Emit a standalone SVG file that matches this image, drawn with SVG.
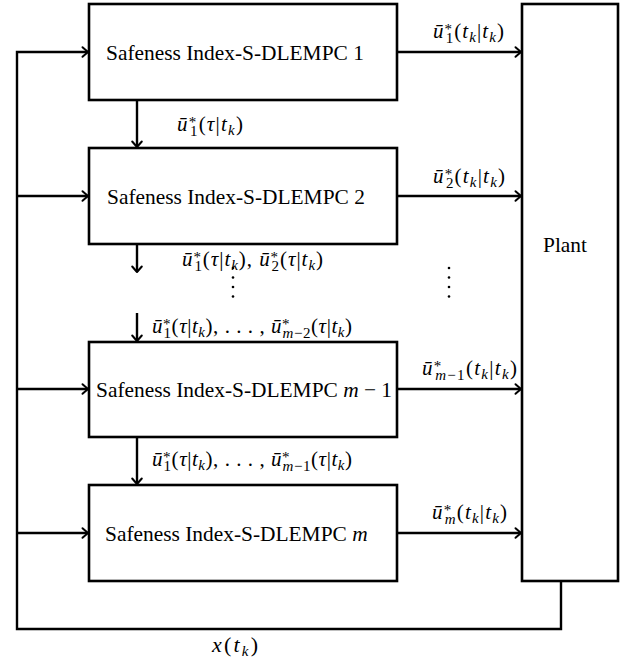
<svg xmlns="http://www.w3.org/2000/svg" width="632" height="665" viewBox="0 0 632 665">
<style>
.b{fill:#fff;stroke:#000;stroke-width:2.6}
.c{fill:none;stroke:#000;stroke-width:2.4}
.t{font-size:21.4px}
.m{font-size:21px}
.i{font-style:italic}
.s{font-size:15px}
.d{fill:#000}
</style>
<defs>
<marker id="ar" markerUnits="userSpaceOnUse" markerWidth="14" markerHeight="14" refX="7" refY="7" orient="auto" viewBox="0 0 14 14" overflow="visible">
<path d="M1.5,2.2 L7,7 L1.5,11.8" fill="none" stroke="#000" stroke-width="2" stroke-linecap="round" stroke-linejoin="round"/>
</marker>
</defs>
<rect width="632" height="665" fill="#fff"/>
<g id="connectors">
<path class="c" d="M561,581 V629 H17 V52 H88" marker-end="url(#ar)"/>
<path class="c" d="M17,196 H88" marker-end="url(#ar)"/>
<path class="c" d="M17,389 H88" marker-end="url(#ar)"/>
<path class="c" d="M17,533 H88" marker-end="url(#ar)"/>
<path class="c" d="M397,52 H521" marker-end="url(#ar)"/>
<path class="c" d="M397,196 H521" marker-end="url(#ar)"/>
<path class="c" d="M397,389 H521" marker-end="url(#ar)"/>
<path class="c" d="M397,533 H521" marker-end="url(#ar)"/>
<path class="c" d="M137,100 V147" marker-end="url(#ar)"/>
<path class="c" d="M137,244 V272" marker-end="url(#ar)"/>
<path class="c" d="M137,313 V341" marker-end="url(#ar)"/>
<path class="c" d="M137,437 V484" marker-end="url(#ar)"/>
</g>
<g id="node1">
<rect class="b" x="89" y="4" width="308" height="96"/>
<text class="t" x="106" y="60" font-family="Liberation Serif">Safeness Index-S-DLEMPC 1</text>
</g>
<g id="node2">
<rect class="b" x="89" y="148" width="308" height="96"/>
<text class="t" x="107" y="204" font-family="Liberation Serif">Safeness Index-S-DLEMPC 2</text>
</g>
<g id="node3">
<rect class="b" x="89" y="342" width="308" height="95"/>
<text class="t" x="96" y="397" font-family="Liberation Serif">Safeness Index-S-DLEMPC <tspan class="i">m</tspan> − 1</text>
</g>
<g id="node4">
<rect class="b" x="89" y="485" width="308" height="96"/>
<text class="t" x="105" y="541" font-family="Liberation Serif">Safeness Index-S-DLEMPC <tspan class="i">m</tspan></text>
</g>
<g id="plant">
<rect class="b" x="522" y="4" width="96" height="577"/>
<text class="t" x="543" y="252" font-family="Liberation Serif">Plant</text>
</g>
<g id="labels">
<text class="m" font-family="Liberation Serif" x="433" y="38" textLength="71" lengthAdjust="spacing"><tspan class="i">ū</tspan><tspan class="s" dy="-4">*</tspan><tspan class="s" dx="-7.5" dy="9">1</tspan><tspan dy="-5">(</tspan><tspan class="i">t</tspan><tspan class="s i" dy="4">k</tspan><tspan dy="-4">|</tspan><tspan class="i">t</tspan><tspan class="s i" dy="4">k</tspan><tspan dy="-4">)</tspan></text>
<text class="m" font-family="Liberation Serif" x="433" y="183" textLength="72" lengthAdjust="spacing"><tspan class="i">ū</tspan><tspan class="s" dy="-4">*</tspan><tspan class="s" dx="-7.5" dy="9">2</tspan><tspan dy="-5">(</tspan><tspan class="i">t</tspan><tspan class="s i" dy="4">k</tspan><tspan dy="-4">|</tspan><tspan class="i">t</tspan><tspan class="s i" dy="4">k</tspan><tspan dy="-4">)</tspan></text>
<text class="m" font-family="Liberation Serif" x="422" y="375" textLength="95" lengthAdjust="spacing"><tspan class="i">ū</tspan><tspan class="s" dy="-4">*</tspan><tspan class="s" dx="-7.5" dy="9"><tspan class="i">m</tspan>−1</tspan><tspan dy="-5">(</tspan><tspan class="i">t</tspan><tspan class="s i" dy="4">k</tspan><tspan dy="-4">|</tspan><tspan class="i">t</tspan><tspan class="s i" dy="4">k</tspan><tspan dy="-4">)</tspan></text>
<text class="m" font-family="Liberation Serif" x="432" y="519" textLength="75" lengthAdjust="spacing"><tspan class="i">ū</tspan><tspan class="s" dy="-4">*</tspan><tspan class="s i" dx="-7.5" dy="9">m</tspan><tspan dy="-5">(</tspan><tspan class="i">t</tspan><tspan class="s i" dy="4">k</tspan><tspan dy="-4">|</tspan><tspan class="i">t</tspan><tspan class="s i" dy="4">k</tspan><tspan dy="-4">)</tspan></text>
<text class="m" font-family="Liberation Serif" x="177" y="131" textLength="66" lengthAdjust="spacing"><tspan class="i">ū</tspan><tspan class="s" dy="-4">*</tspan><tspan class="s" dx="-7.5" dy="9">1</tspan><tspan dy="-5">(</tspan><tspan class="i">τ</tspan>|<tspan class="i">t</tspan><tspan class="s i" dy="4">k</tspan><tspan dy="-4">)</tspan></text>
<text class="m" font-family="Liberation Serif" x="182" y="266" textLength="141" lengthAdjust="spacing"><tspan class="i">ū</tspan><tspan class="s" dy="-4">*</tspan><tspan class="s" dx="-7.5" dy="9">1</tspan><tspan dy="-5">(</tspan><tspan class="i">τ</tspan>|<tspan class="i">t</tspan><tspan class="s i" dy="4">k</tspan><tspan dy="-4">), </tspan><tspan class="i">ū</tspan><tspan class="s" dy="-4">*</tspan><tspan class="s" dx="-7.5" dy="9">2</tspan><tspan dy="-5">(</tspan><tspan class="i">τ</tspan>|<tspan class="i">t</tspan><tspan class="s i" dy="4">k</tspan><tspan dy="-4">)</tspan></text>
<text class="m" font-family="Liberation Serif" x="152" y="333" textLength="200" lengthAdjust="spacing"><tspan class="i">ū</tspan><tspan class="s" dy="-4">*</tspan><tspan class="s" dx="-7.5" dy="9">1</tspan><tspan dy="-5">(</tspan><tspan class="i">τ</tspan>|<tspan class="i">t</tspan><tspan class="s i" dy="4">k</tspan><tspan dy="-4">), . . . , </tspan><tspan class="i">ū</tspan><tspan class="s" dy="-4">*</tspan><tspan class="s" dx="-7.5" dy="9"><tspan class="i">m</tspan>−2</tspan><tspan dy="-5">(</tspan><tspan class="i">τ</tspan>|<tspan class="i">t</tspan><tspan class="s i" dy="4">k</tspan><tspan dy="-4">)</tspan></text>
<text class="m" font-family="Liberation Serif" x="152" y="466" textLength="200" lengthAdjust="spacing"><tspan class="i">ū</tspan><tspan class="s" dy="-4">*</tspan><tspan class="s" dx="-7.5" dy="9">1</tspan><tspan dy="-5">(</tspan><tspan class="i">τ</tspan>|<tspan class="i">t</tspan><tspan class="s i" dy="4">k</tspan><tspan dy="-4">), . . . , </tspan><tspan class="i">ū</tspan><tspan class="s" dy="-4">*</tspan><tspan class="s" dx="-7.5" dy="9"><tspan class="i">m</tspan>−1</tspan><tspan dy="-5">(</tspan><tspan class="i">τ</tspan>|<tspan class="i">t</tspan><tspan class="s i" dy="4">k</tspan><tspan dy="-4">)</tspan></text>
<text font-size="22" font-family="Liberation Serif" x="212" y="652" textLength="46" lengthAdjust="spacing"><tspan class="i">x</tspan>(<tspan class="i">t</tspan><tspan class="s i" dy="4">k</tspan><tspan dy="-4">)</tspan></text>
</g>
<g id="vdots">
<circle class="d" cx="233" cy="268" r="1.3"/>
<circle class="d" cx="233" cy="277.5" r="1.3"/>
<circle class="d" cx="233" cy="287" r="1.3"/>
<circle class="d" cx="233" cy="296.5" r="1.3"/>
<circle class="d" cx="449" cy="268" r="1.3"/>
<circle class="d" cx="449" cy="277.5" r="1.3"/>
<circle class="d" cx="449" cy="287" r="1.3"/>
<circle class="d" cx="449" cy="296.5" r="1.3"/>
</g>
</svg>
